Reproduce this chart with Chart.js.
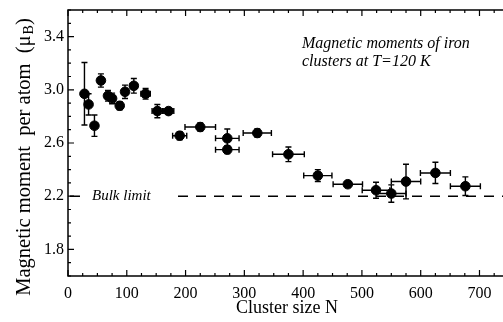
<!DOCTYPE html>
<html>
<head>
<meta charset="utf-8">
<script src="https://cdn.jsdelivr.net/npm/chart.js@4.4.1/dist/chart.umd.min.js"></script>
<style>
  html, body { margin: 0; padding: 0; background: #fff; overflow: hidden; }
  #wrap { width: 503px; height: 322px; position: relative; }
  canvas { display: block; }
</style>
</head>
<body>
<div id="wrap"><canvas id="momentChart"></canvas></div>
<script>
// cluster size N and moment per atom (mu_B)
var sizes = [28, 35, 45, 56, 68, 75, 88, 97, 112, 132, 152, 171, 190, 225, 271, 271, 322, 375, 425, 476, 524, 550, 575, 625, 676];
var moments = [2.97, 2.89, 2.73, 3.07, 2.955, 2.935, 2.88, 2.985, 3.03, 2.97, 2.84, 2.84, 2.655, 2.72, 2.635, 2.55, 2.675, 2.515, 2.355, 2.29, 2.245, 2.22, 2.31, 2.375, 2.275];
var momentErr = [0.235, 0.08, 0.08, 0.05, 0.04, 0.04, 0.03, 0.05, 0.055, 0.04, 0.05, 0.02, 0.03, 0.03, 0.07, 0.03, 0.03, 0.055, 0.045, 0.02, 0.06, 0.065, 0.13, 0.08, 0.07];
var sizeErr = [0, 0, 0, 0, 5, 5, 4, 5, 6, 8, 9, 9, 12, 26, 20, 20, 24, 27, 24, 25, 23.5, 25, 25, 25.5, 25.5];

var xTicks = [0, 100, 200, 300, 400, 500, 600, 700];
var yTicks = [1.8, 2.2, 2.6, 3.0, 3.4];
var bulkLimit = 2.2;

var serif = '"Liberation Serif", "Times New Roman", serif';

var figurePlugin = {
    id: 'figure',
    beforeDatasetsDraw: function (chart) {
        var c = chart.ctx, x = chart.scales.x, y = chart.scales.y, area = chart.chartArea;
        c.save();
        c.strokeStyle = '#000';
        // bulk limit dashed line
        var yb = y.getPixelForValue(bulkLimit);
        c.lineWidth = 1.4;
        c.setLineDash([10, 8]);
        c.beginPath();
        c.moveTo(area.left + 2, yb);
        c.lineTo(area.right, yb);
        c.stroke();
        c.setLineDash([]);
        c.font = 'italic 15px ' + serif;
        var tx = area.left + 24;
        var tw = c.measureText('Bulk limit').width;
        c.fillStyle = '#fff';
        c.fillRect(tx - 10, yb - 8, tw + 36, 16);
        c.fillStyle = '#000';
        c.textBaseline = 'middle';
        c.fillText('Bulk limit', tx, yb);

        // error bars
        c.lineWidth = 1.4;
        for (var i = 0; i < sizes.length; i++) {
            var px = x.getPixelForValue(sizes[i]);
            var py = y.getPixelForValue(moments[i]);
            c.beginPath();
            if (momentErr[i] > 0) {
                var y1 = y.getPixelForValue(moments[i] + momentErr[i]);
                var y2 = y.getPixelForValue(moments[i] - momentErr[i]);
                c.moveTo(px, y1); c.lineTo(px, y2);
                c.moveTo(px - 3, y1); c.lineTo(px + 3, y1);
                c.moveTo(px - 3, y2); c.lineTo(px + 3, y2);
            }
            if (sizeErr[i] > 0) {
                var x1 = x.getPixelForValue(sizes[i] - sizeErr[i]);
                var x2 = x.getPixelForValue(sizes[i] + sizeErr[i]);
                c.moveTo(x1, py); c.lineTo(x2, py);
                c.moveTo(x1, py - 3); c.lineTo(x1, py + 3);
                c.moveTo(x2, py - 3); c.lineTo(x2, py + 3);
            }
            c.stroke();
        }
        c.restore();
    },
    afterDraw: function (chart) {
        var c = chart.ctx, x = chart.scales.x, y = chart.scales.y, area = chart.chartArea;
        c.save();
        c.strokeStyle = '#000';
        c.lineWidth = 1.5;
        // frame: left, bottom, top (right side is cut off)
        c.beginPath();
        c.moveTo(area.right, area.top);
        c.lineTo(area.left, area.top);
        c.lineTo(area.left, area.bottom);
        c.lineTo(area.right, area.bottom);
        c.stroke();

        // inward ticks
        c.lineWidth = 1.2;
        c.beginPath();
        for (var v = 0; v <= 740; v += 25) {
            var px = x.getPixelForValue(v);
            var len = (v % 100 === 0) ? 6 : 3;
            c.moveTo(px, area.bottom); c.lineTo(px, area.bottom - len);
            c.moveTo(px, area.top); c.lineTo(px, area.top + len);
        }
        for (var k = 16; k <= 36; k++) {
            var py = y.getPixelForValue(k / 10);
            var l2 = ((k - 18) % 4 === 0) ? 6 : 3;
            c.moveTo(area.left, py); c.lineTo(area.left + l2, py);
        }
        c.stroke();

        // annotation
        c.fillStyle = '#000';
        c.textBaseline = 'middle';
        c.font = 'italic 16px ' + serif;
        c.fillText('Magnetic moments of iron', 302, 44);
        c.fillText('clusters at T=120 K', 302, 62);

        // x title
        c.font = '18px ' + serif;
        c.textAlign = 'center';
        c.fillText('Cluster size N', 287, 308);

        // y title with subscript
        c.translate(25, 157);
        c.rotate(-Math.PI / 2);
        c.textAlign = 'left';
        var big = '20.5px ' + serif, small = '14px ' + serif;
        var part1 = 'Magnetic moment  per atom  (\u03bc';
        c.font = big;
        var w1 = c.measureText(part1).width;
        var w3 = c.measureText(')').width;
        c.font = small;
        var w2 = c.measureText('B').width + 1;
        var start = -(w1 + w2 + w3) / 2;
        c.font = big;
        c.fillText(part1, start, 0);
        c.font = small;
        c.fillText('B', start + w1 + 1, 4);
        c.font = big;
        c.fillText(')', start + w1 + w2, 0);
        c.restore();
    }
};

var ctx = document.getElementById('momentChart').getContext('2d');

var momentChart = new Chart(ctx, {
    type: 'scatter',
    data: {
        datasets: [{
            data: sizes.map(function (s, i) { return { x: s, y: moments[i] }; }),
            backgroundColor: '#000',
            borderColor: '#000',
            pointRadius: 4.8,
            pointHoverRadius: 4.8
        }]
    },
    options: {
        responsive: true,
        maintainAspectRatio: false,
        animation: false,
        layout: { autoPadding: false, padding: { top: 10, right: 0, left: 0, bottom: 0 } },
        plugins: {
            legend: { display: false },
            tooltip: { enabled: false }
        },
        scales: {
            x: {
                type: 'linear',
                min: 0,
                max: 740,
                afterBuildTicks: function (scale) {
                    scale.ticks = xTicks.map(function (v) { return { value: v }; });
                },
                afterFit: function (scale) {
                    scale.height = 46;
                    scale.paddingLeft = 0;
                    scale.paddingRight = 0;
                },
                grid: { display: false, drawTicks: false },
                border: { display: false },
                ticks: {
                    color: '#000',
                    padding: 8,
                    maxRotation: 0,
                    font: { family: serif, size: 16 }
                }
            },
            y: {
                min: 1.6,
                max: 3.6,
                afterBuildTicks: function (scale) {
                    scale.ticks = yTicks.map(function (v) { return { value: v }; });
                },
                afterFit: function (scale) {
                    scale.width = 68;
                    scale.paddingTop = 0;
                    scale.paddingBottom = 0;
                },
                grid: { display: false, drawTicks: false },
                border: { display: false },
                ticks: {
                    color: '#000',
                    padding: 4,
                    font: { family: serif, size: 16 },
                    callback: function (v) { return Number(v).toFixed(1); }
                }
            }
        }
    },
    plugins: [figurePlugin]
});
</script>
</body>
</html>
